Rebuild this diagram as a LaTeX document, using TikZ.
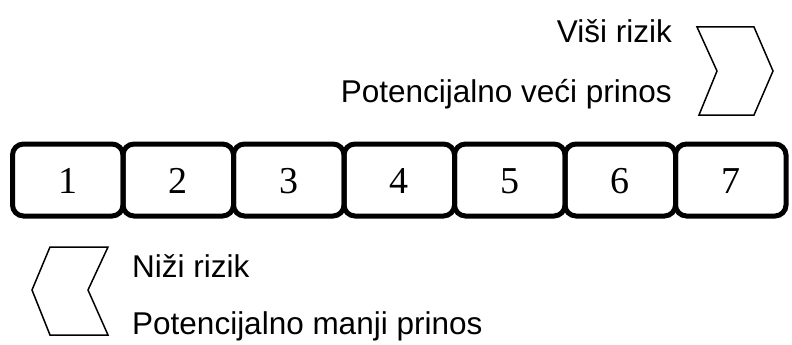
\documentclass[tikz,border=0pt]{standalone}
\usepackage{fontspec}
\setmainfont{Liberation Serif}
\newfontfamily\labelfont{Liberation Sans}
\usetikzlibrary{positioning}
\tikzset{
  stepbox/.style={draw,line width=5pt,rounded corners=11pt,minimum width=110.5pt,minimum height=72pt,inner sep=0pt,text height=26pt,text depth=0pt,font=\fontsize{38}{38}\selectfont},
  risklabel/.style={font=\labelfont\fontsize{31.5}{31.5}\selectfont,inner sep=0pt},
  chevron/.style={draw,line width=1.5pt,line join=miter}
}
\begin{document}
\begin{tikzpicture}[x=1pt,y=-1pt]
	\useasboundingbox (0,0) rectangle (792,345);
	% skala od 1 do 7
	\foreach \i in {1,...,7}
		\node[stepbox] (b\i) at ({12.5+110.5*(\i-0.5)},180) {\i};
	% gornja strelica
	\draw[chevron] (697,27) -- (754,27) -- (773,71) -- (754,115) -- (699,115) -- (717,71) -- cycle;
	\node[risklabel,anchor=base east] (vr) at (672,43) {Viši rizik};
	\node[risklabel,anchor=base east] (vp) at (672,102) {Potencijalno veći prinos};
	% donja strelica
	\draw[chevron] (50,247) -- (108,247) -- (88,290) -- (108,335) -- (50,335) -- (32,290) -- cycle;
	\node[risklabel,anchor=base west] (nr) at (132,277) {Niži rizik};
	\node[risklabel,anchor=base west] (np) at (132,334) {Potencijalno manji prinos};
\end{tikzpicture}
\end{document}
